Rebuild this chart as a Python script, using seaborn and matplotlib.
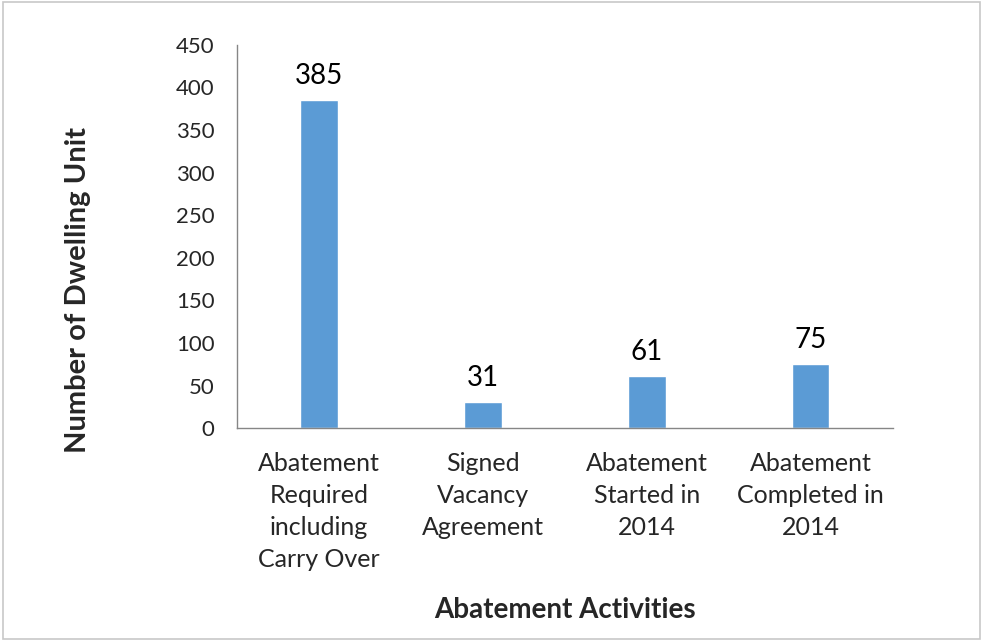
import matplotlib.pyplot as plt
import pandas as pd
import seaborn as sns
from matplotlib.patches import Rectangle
from matplotlib.ticker import FixedLocator

categories = [
    "Abatement\nRequired\nincluding\nCarry Over",
    "Signed\nVacancy\nAgreement",
    "Abatement\nStarted in\n2014",
    "Abatement\nCompleted in\n2014",
]
units = [385, 31, 61, 75]
y_ticks = [0, 50, 100, 150, 200, 250, 300, 350, 400, 450]

BAR_COLOR = "#5B9BD5"
AXIS_COLOR = "#868686"

sns.set_style("white")
plt.rcParams["font.family"] = ["Lato", "DejaVu Sans"]

df = pd.DataFrame({"activity": categories, "units": units})

fig = plt.figure(figsize=(9.83, 6.41), dpi=100)
ax = fig.add_axes([0.241, 0.332, 0.667, 0.598])

sns.barplot(data=df, x="activity", y="units", color=BAR_COLOR, width=0.23,
            saturation=1, ax=ax)

for c in ax.containers:
    ax.bar_label(c, padding=8, fontsize=20, color="#000000")

ax.set_xlim(-0.5, len(categories) - 0.5)
ax.set_ylim(0, 450)
ax.set_yticks(y_ticks)
ax.tick_params(axis="y", labelsize=16, length=7, width=1, color=AXIS_COLOR,
               direction="out", pad=9)
ax.tick_params(axis="x", which="major", labelsize=18, length=0, pad=17)
ax.xaxis.set_minor_locator(FixedLocator([i - 0.5 for i in range(len(categories) + 1)]))
ax.tick_params(axis="x", which="minor", length=8, width=1, color=AXIS_COLOR,
               direction="out")
for lab in ax.get_xticklabels():
    lab.set_linespacing(1.48)

for side in ["top", "right"]:
    ax.spines[side].set_visible(False)
for side in ["left", "bottom"]:
    ax.spines[side].set_color(AXIS_COLOR)
    ax.spines[side].set_linewidth(1)

ax.set_xlabel("Abatement Activities", fontsize=20, fontweight="bold")
ax.xaxis.set_label_coords(0.5, -0.44)
ax.set_ylabel("Number of Dwelling Unit", fontsize=21, fontweight="bold")
ax.yaxis.set_label_coords(-0.222, 0.36)

fig.patches.append(Rectangle((0.003, 0.003), 0.994, 0.994, transform=fig.transFigure,
                             fill=False, edgecolor="#C8C8C8", linewidth=1.2))

fig.savefig("out.png", dpi=100)
